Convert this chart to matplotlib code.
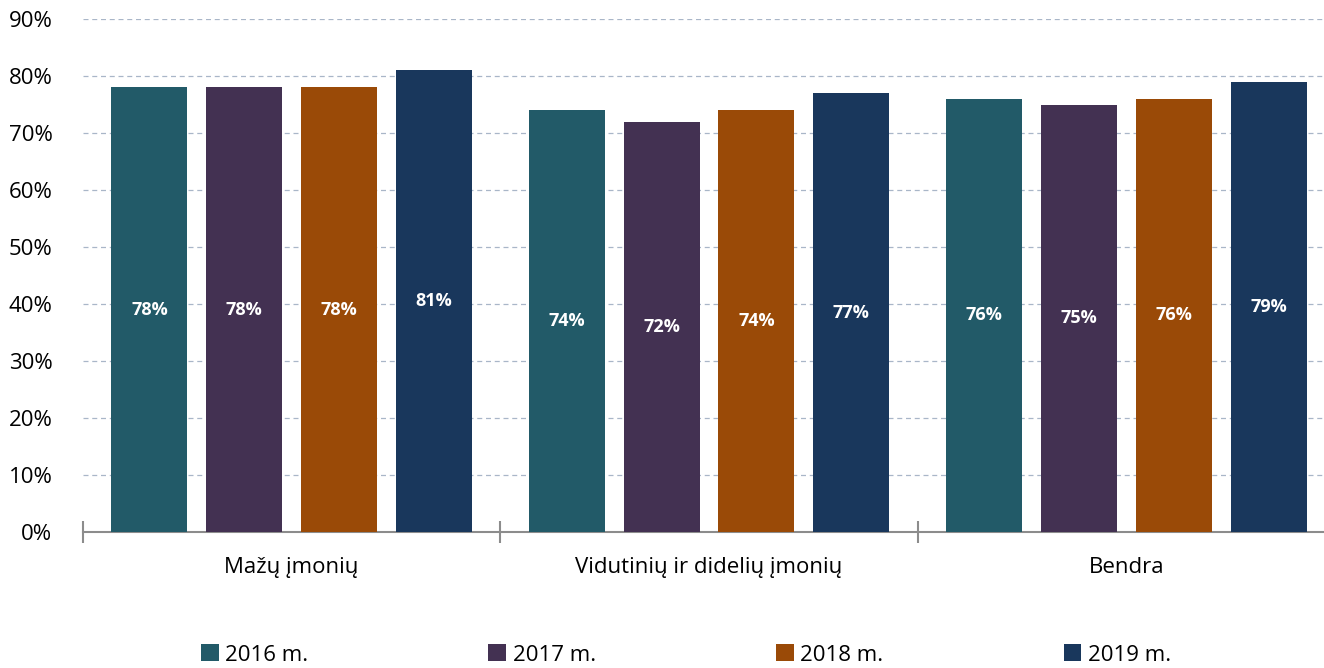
import matplotlib.pyplot as plt
import numpy as np

categories = ["Mažų įmonių", "Vidutinių ir didelių įmonių", "Bendra"]
years = ["2016 m.", "2017 m.", "2018 m.", "2019 m."]
values = {
    "2016 m.": [78, 74, 76],
    "2017 m.": [78, 72, 75],
    "2018 m.": [78, 74, 76],
    "2019 m.": [81, 77, 79],
}
colors = ["#225a68", "#433152", "#9a4a07", "#19375c"]

plt.rcParams['font.family'] = ['Open Sans', 'DejaVu Sans']

fig = plt.figure(figsize=(13.24, 6.68), dpi=100)
# axes: left 83px, right 1335px, bottom 532px, top 19px (90%)
W, H = 1324, 668
ax = fig.add_axes([83 / W, (H - 532) / H, (1335 - 83) / W, (532 - 19) / H])

x = np.arange(len(categories))
step = 95 / 418
width = 76 / 418
for i, (yr, col) in enumerate(zip(years, colors)):
    pos = x + (i - 1.5) * step
    bars = ax.bar(pos, values[yr], width, color=col, label=yr, zorder=3)
    for b, v in zip(bars, values[yr]):
        ax.text(b.get_x() + b.get_width() / 2, v / 2, f"{v}%", ha='center', va='center',
                color='white', fontsize=13, fontweight='bold', zorder=4)

ax.set_xlim(-0.5, 2.5)
ax.set_ylim(0, 90)
ax.set_yticks(np.arange(0, 91, 10))
ax.set_yticklabels([f"{t}%" for t in range(0, 91, 10)], fontsize=16)
ax.yaxis.grid(True, linestyle=(0, (4, 3)), color='#a9b6c8', linewidth=0.9, zorder=0)
ax.tick_params(axis='y', length=0, pad=22)

ax.set_xticks([-0.5, 0.5, 1.5, 2.5])
ax.set_xticklabels([])
ax.tick_params(axis='x', direction='inout', length=16, width=1.5, color='#8c8c8c')
for c, label in zip(x, categories):
    ax.text(c, -6.3, label, ha='center', va='center', fontsize=16,
            transform=ax.transData)

for s in ['top', 'right', 'left']:
    ax.spines[s].set_visible(False)
ax.spines['bottom'].set_color('#8c8c8c')
ax.spines['bottom'].set_linewidth(1.5)

fig.legend(loc='center', bbox_to_anchor=(686 / W, 1 - 655 / H), ncol=4, frameon=False,
           fontsize=16, handlelength=0.8, handleheight=0.8, handletextpad=0.3,
           columnspacing=8.1)

fig.savefig("out.png", dpi=100)
